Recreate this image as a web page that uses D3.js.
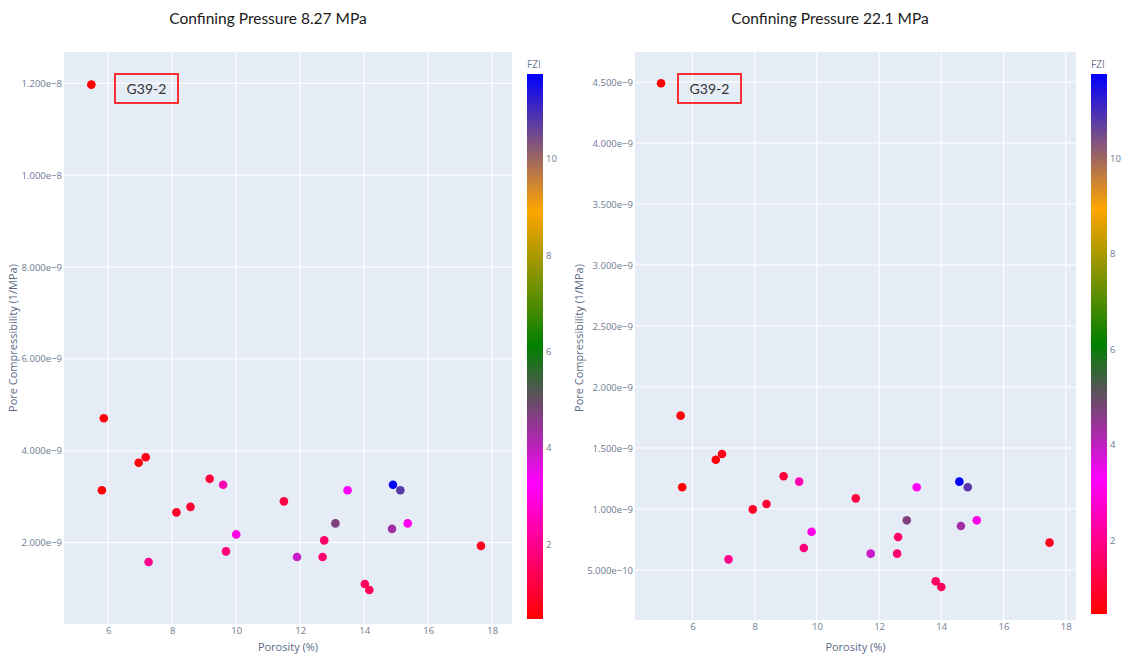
<!DOCTYPE html>
<html>
<head>
<meta charset="utf-8">
<script src="https://cdn.jsdelivr.net/npm/d3@7"></script>
<style>
  html, body { margin: 0; padding: 0; background: #fff; }
  svg { display: block; }
  text { font-family: "Open Sans", "Noto Sans", sans-serif; }
</style>
</head>
<body>
<svg id="chart" width="1123" height="656"></svg>
<script>
// ---- data ----
const samples = ["G39-2","s2","s3","s4","s5","s6","s7","s8","s9","s10","s11","s12","s13","s14","s15","s16","s17","s18","s19","s20","s21","s22","s23","s24","s25"];
const fzi = [0.45,0.6,0.55,0.7,0.5,1.1,2.4,0.9,1.0,1.2,3.0,1.8,2.0,3.9,1.7,1.6,3.2,4.7,1.5,1.4,11.76,10.8,4.3,3.1,0.8];
const porosity827 = [5.47,5.86,6.95,7.17,5.80,9.17,9.59,8.13,8.57,11.49,10.00,9.68,7.26,11.90,12.70,12.75,13.48,13.10,14.02,14.16,14.90,15.13,14.87,15.36,17.65];
const compress827 = [11.97e-9,4.71e-9,3.74e-9,3.86e-9,3.14e-9,3.39e-9,3.26e-9,2.66e-9,2.78e-9,2.90e-9,2.18e-9,1.81e-9,1.58e-9,1.69e-9,1.69e-9,2.05e-9,3.14e-9,2.42e-9,1.10e-9,0.97e-9,3.26e-9,3.14e-9,2.30e-9,2.42e-9,1.93e-9];
const porosity221 = [4.99,5.62,6.75,6.95,5.67,8.93,9.43,7.94,8.38,11.25,9.83,9.58,7.16,11.73,12.58,12.61,13.21,12.89,13.82,14.00,14.58,14.85,14.63,15.14,17.48];
const compress221 = [4.49e-9,1.765e-9,1.404e-9,1.451e-9,1.178e-9,1.268e-9,1.224e-9,0.997e-9,1.041e-9,1.087e-9,0.814e-9,0.680e-9,0.587e-9,0.634e-9,0.634e-9,0.770e-9,1.178e-9,0.907e-9,0.407e-9,0.361e-9,1.224e-9,1.178e-9,0.861e-9,0.907e-9,0.724e-9];
const xTicks = [6,8,10,12,14,16,18];
const yTicks827 = [2e-9,4e-9,6e-9,8e-9,10e-9,12e-9];
const yTicks221 = [0.5e-9,1.0e-9,1.5e-9,2.0e-9,2.5e-9,3.0e-9,3.5e-9,4.0e-9,4.5e-9];
const cbTicks = [2,4,6,8,10];
const colorStops = ["#ff0000","#ff00ff","#008000","#ffa500","#0000ff"];
const titles = ["Confining Pressure 8.27 MPa","Confining Pressure 22.1 MPa"];
const annotationText = "G39-2";

// ---- drawing ----
const svg = d3.select("#chart");
const fmtE = v => d3.format(".3e")(v).replace("-", "\u2212");
const cmin = 0.45, cmax = 11.76;
const color = d3.scaleLinear()
  .domain(d3.range(colorStops.length).map(i => cmin + (cmax - cmin) * i / (colorStops.length - 1)))
  .range(colorStops)
  .interpolate(d3.interpolateRgb);

const tickColor = "#6d7b92";
const titleColor = "#5b6a84";

function panel(cfg) {
  const g = svg.append("g");
  const x = d3.scaleLinear().domain(cfg.xDomain).range([cfg.left, cfg.right]);
  const y = d3.scaleLinear().domain(cfg.yDomain).range([cfg.bottom, cfg.top]);

  g.append("rect")
    .attr("x", cfg.left).attr("y", cfg.top)
    .attr("width", cfg.right - cfg.left).attr("height", cfg.bottom - cfg.top)
    .attr("fill", "#e5ecf6");

  // grid
  g.append("g").selectAll("line").data(xTicks).join("line")
    .attr("x1", d => x(d)).attr("x2", d => x(d))
    .attr("y1", cfg.top).attr("y2", cfg.bottom)
    .attr("stroke", "#fff").attr("stroke-width", 1);
  g.append("g").selectAll("line").data(cfg.yTicks).join("line")
    .attr("y1", d => y(d)).attr("y2", d => y(d))
    .attr("x1", cfg.left).attr("x2", cfg.right)
    .attr("stroke", "#fff").attr("stroke-width", 1);

  // axes
  const xa = g.append("g").attr("transform", `translate(0,${cfg.bottom})`)
    .call(d3.axisBottom(x).tickValues(xTicks).tickSize(0).tickPadding(3).tickFormat(d3.format("d")));
  xa.select(".domain").remove();
  xa.selectAll("text").attr("fill", tickColor).style("font-size", "9.5px");

  const ya = g.append("g").attr("transform", `translate(${cfg.left},0)`)
    .call(d3.axisLeft(y).tickValues(cfg.yTicks).tickSize(0).tickPadding(2).tickFormat(fmtE));
  ya.select(".domain").remove();
  ya.selectAll("text").attr("fill", tickColor).style("font-size", "9.5px");

  // axis titles
  g.append("text").attr("x", (cfg.left + cfg.right) / 2).attr("y", 651)
    .attr("text-anchor", "middle").attr("fill", titleColor).style("font-size", "11px")
    .text("Porosity (%)");
  g.append("text").attr("transform", `translate(${cfg.yTitleX},338) rotate(-90)`)
    .attr("text-anchor", "middle").attr("fill", titleColor).style("font-size", "11px")
    .text("Pore Compressibility (1/MPa)");

  // points
  g.append("g").selectAll("circle").data(d3.range(cfg.xs.length)).join("circle")
    .attr("cx", i => x(cfg.xs[i])).attr("cy", i => y(cfg.ys[i]))
    .attr("r", 4.3)
    .attr("fill", i => color(fzi[i]));

  // title
  g.append("text").attr("x", cfg.titleX).attr("y", 24)
    .attr("text-anchor", "middle").attr("fill", "#1a1a1a")
    .style("font-family", "Lato, 'Open Sans', sans-serif").style("font-size", "15.5px")
    .text(cfg.title);

  // annotation box
  g.append("rect").attr("x", cfg.boxX).attr("y", 74).attr("width", 63).attr("height", 29)
    .attr("fill", "none").attr("stroke", "#ff0000").attr("stroke-width", 1.6);
  g.append("text").attr("x", cfg.boxX + 31.5).attr("y", 94)
    .attr("text-anchor", "middle").attr("fill", "#333")
    .style("font-family", "Lato, 'Open Sans', sans-serif").style("font-size", "14px")
    .text(annotationText);

  // colorbar
  const cb = d3.scaleLinear().domain([cmin, cmax]).range([cfg.cbBottom, cfg.cbTop]);
  const gradId = "grad" + cfg.id;
  const grad = svg.append("defs").append("linearGradient").attr("id", gradId)
    .attr("x1", 0).attr("y1", 1).attr("x2", 0).attr("y2", 0);
  grad.selectAll("stop").data(colorStops).join("stop")
    .attr("offset", (d, i) => i / (colorStops.length - 1))
    .attr("stop-color", d => d);
  g.append("rect").attr("x", cfg.cbX).attr("y", cfg.cbTop)
    .attr("width", 16).attr("height", cfg.cbBottom - cfg.cbTop)
    .attr("fill", `url(#${gradId})`);
  const ca = g.append("g").attr("transform", `translate(${cfg.cbX + 16},0)`)
    .call(d3.axisRight(cb).tickValues(cbTicks).tickSize(0).tickPadding(3).tickFormat(d3.format("d")));
  ca.select(".domain").remove();
  ca.selectAll("text").attr("fill", tickColor).style("font-size", "9.5px");
  g.append("text").attr("x", cfg.cbX).attr("y", 68)
    .attr("fill", tickColor).style("font-size", "10px").text("FZI");
}

panel({
  id: 1, xs: porosity827, ys: compress827,
  left: 64, right: 512, top: 52, bottom: 624,
  xDomain: [4.616, 18.62], yDomain: [0.230e-9, 12.681e-9], yTicks: yTicks827,
  yTitleX: 17, title: titles[0], titleX: 268, boxX: 115,
  cbX: 527, cbTop: 74, cbBottom: 619
});
panel({
  id: 2, xs: porosity221, ys: compress221,
  left: 635, right: 1076, top: 52, bottom: 620,
  xDomain: [4.153, 18.33], yDomain: [0.090e-9, 4.746e-9], yTicks: yTicks221,
  yTitleX: 583, title: titles[1], titleX: 830, boxX: 678,
  cbX: 1091, cbTop: 74, cbBottom: 614
});
</script>
</body>
</html>
